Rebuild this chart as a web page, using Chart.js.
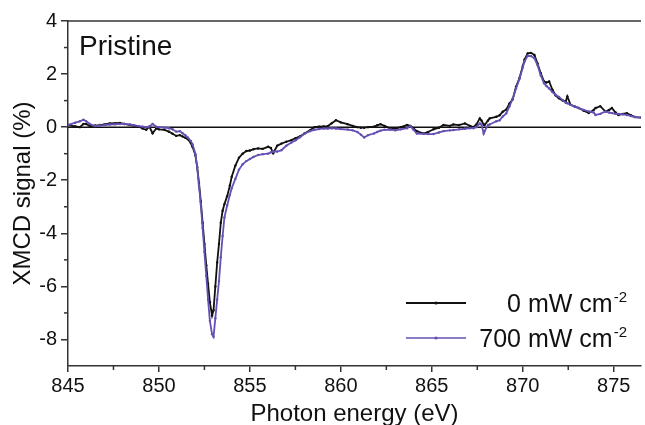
<!DOCTYPE html>
<html>
<head>
<meta charset="utf-8">
<script src="https://cdn.jsdelivr.net/npm/chart.js@4.4.1/dist/chart.umd.min.js"></script>
<style>
  html, body { margin: 0; padding: 0; background: #fff; }
</style>
</head>
<body>
<canvas id="xmcdChart" width="645" height="425"></canvas>
<script>
// photon energy (eV), shared by both spectra
const energy = [
  845.0, 845.4, 845.65, 845.85, 846.0, 846.2, 846.5, 846.75, 847.0, 847.3,
  847.6, 847.85, 848.1, 848.4, 848.65, 848.9, 849.1, 849.3, 849.47, 849.65,
  849.85, 850.0, 850.3, 850.55, 850.75, 850.95, 851.15, 851.3, 851.45, 851.6,
  851.75, 851.85, 852.0, 852.1, 852.2, 852.3, 852.4, 852.5, 852.6, 852.7,
  852.8, 852.92, 853.0, 853.1, 853.2, 853.3, 853.4, 853.5, 853.6, 853.75,
  853.9, 854.0, 854.2, 854.4, 854.6, 854.8, 855.0, 855.2, 855.45, 855.7,
  856.0, 856.15, 856.28, 856.5, 856.73, 857.0, 857.28, 857.5, 857.75, 858.0,
  858.3, 858.55, 858.8, 859.05, 859.28, 859.5, 859.73, 860.0, 860.37, 860.65,
  860.91, 861.1, 861.28, 861.5, 861.82, 862.0, 862.18, 862.4, 862.73, 863.0,
  863.3, 863.64, 863.82, 864.0, 864.18, 864.55, 864.8, 865.09, 865.4, 865.64,
  866.0, 866.18, 866.5, 866.82, 867.1, 867.28, 867.45, 867.64, 867.73, 867.85,
  867.9, 868.09, 868.18, 868.54, 868.73, 868.9, 869.09, 869.27, 869.45, 869.63,
  869.82, 870.0, 870.1, 870.27, 870.45, 870.64, 870.81, 870.99, 871.17, 871.3,
  871.45, 871.63, 871.8, 871.99, 872.2, 872.36, 872.45, 872.63, 872.85, 873.08,
  873.35, 873.63, 873.9, 874.0, 874.26, 874.54, 874.75, 874.9, 875.1, 875.26,
  875.5, 875.72, 875.95, 876.17, 876.5
];

// XMCD signal (%) at 0 mW cm-2
const signal0 = [
  0.08, 0.03, 0.00, 0.12, 0.12, 0.04, 0.06, 0.08, 0.10, 0.14,
  0.15, 0.16, 0.12, 0.08, 0.05, 0.02, -0.05, -0.10, 0.02, -0.23,
  -0.05, -0.08, -0.10, -0.17, -0.25, -0.33, -0.30, -0.35, -0.40, -0.46,
  -0.60, -0.75, -1.05, -1.5, -2.1, -2.8, -3.6, -4.4, -5.2, -5.9,
  -6.6, -7.1, -6.9, -6.0, -5.1, -4.4, -3.6, -3.15, -2.9, -2.6,
  -2.2, -1.87, -1.45, -1.15, -1.0, -0.9, -0.88, -0.83, -0.80, -0.82,
  -0.74, -0.78, -0.98, -0.70, -0.62, -0.55, -0.49, -0.42, -0.35, -0.24,
  -0.12, 0.00, 0.02, 0.03, 0.04, 0.15, 0.26, 0.18, 0.11, 0.05,
  0.00, -0.02, -0.02, 0.00, 0.02, 0.07, 0.11, 0.05, -0.05, -0.05,
  0.00, 0.08, 0.05, -0.05, -0.15, -0.24, -0.18, -0.08, -0.02, 0.08,
  0.05, 0.10, 0.08, 0.14, 0.05, 0.00, 0.10, 0.33, 0.25, 0.10,
  0.08, 0.25, 0.33, 0.39, 0.45, 0.58, 0.66, 0.89, 1.05, 1.52,
  1.85, 2.30, 2.55, 2.78, 2.80, 2.72, 2.40, 2.03, 1.72, 1.68,
  1.72, 1.41, 1.20, 1.09, 1.00, 0.97, 1.16, 0.84, 0.78, 0.72,
  0.62, 0.53, 0.65, 0.72, 0.79, 0.59, 0.65, 0.72, 0.55, 0.46,
  0.50, 0.53, 0.45, 0.38, 0.36
];

// XMCD signal (%) at 700 mW cm-2
const signal700 = [
  0.08, 0.17, 0.22, 0.28, 0.22, 0.12, 0.04, 0.06, 0.08, 0.10,
  0.11, 0.12, 0.12, 0.10, 0.07, 0.04, 0.02, 0.00, 0.02, 0.12,
  0.02, 0.00, -0.02, -0.04, -0.08, -0.17, -0.15, -0.23, -0.30, -0.40,
  -0.52, -0.65, -1.0, -1.5, -2.2, -2.9, -3.8, -4.7, -5.6, -6.5,
  -7.3, -7.8, -7.9, -7.2, -6.5, -5.8, -4.9, -4.1, -3.4, -2.95,
  -2.55, -2.3, -1.95, -1.6, -1.4, -1.28, -1.2, -1.12, -1.05, -1.02,
  -1.0, -0.95, -0.92, -0.92, -0.87, -0.70, -0.58, -0.50, -0.38, -0.25,
  -0.15, -0.10, -0.07, -0.05, -0.05, -0.04, -0.05, -0.07, -0.09, -0.12,
  -0.18, -0.28, -0.39, -0.30, -0.24, -0.18, -0.13, -0.10, -0.09, -0.12,
  -0.08, -0.04, 0.04, -0.10, -0.24, -0.25, -0.26, -0.26, -0.20, -0.15,
  -0.12, -0.11, -0.08, -0.06, -0.04, -0.04, 0.00, 0.14, 0.10, -0.24,
  -0.15, 0.08, 0.10, 0.22, 0.26, 0.40, 0.52, 0.78, 1.08, 1.46,
  1.82, 2.25, 2.48, 2.69, 2.68, 2.60, 2.34, 1.95, 1.65, 1.55,
  1.46, 1.32, 1.22, 1.14, 1.02, 0.92, 0.90, 0.84, 0.78, 0.72,
  0.65, 0.59, 0.55, 0.46, 0.50, 0.59, 0.55, 0.53, 0.50, 0.50,
  0.48, 0.46, 0.42, 0.38, 0.36
];

const seriesNames = ['0 mW cm', '700 mW cm'];
const seriesUnitSup = '-2';
const seriesColors = ['#111111', '#6650b3'];
const xTicks = [845, 850, 855, 860, 865, 870, 875];
const yTicks = [-8, -6, -4, -2, 0, 2, 4];
const sampleName = 'Pristine';

const FONT = '"Liberation Sans", Arial, sans-serif';

const toPoints = vals => vals.map((v, i) => ({ x: energy[i], y: v }));

// zero line, top frame, minor ticks, legend and sample label
const extras = {
  id: 'extras',
  beforeDatasetsDraw(chart) {
    const { ctx, chartArea: a, scales: { x, y } } = chart;
    ctx.save();
    ctx.strokeStyle = '#111';
    ctx.lineWidth = 1.5;
    const y0 = y.getPixelForValue(0);
    ctx.beginPath();
    ctx.moveTo(a.left, y0);
    ctx.lineTo(a.right, y0);
    ctx.stroke();

    ctx.strokeStyle = '#333';
    ctx.beginPath();
    ctx.moveTo(a.left, a.top);
    ctx.lineTo(a.right, a.top);
    ctx.stroke();

    // minor ticks halfway between the major ones
    for (let i = 0; i < xTicks.length; i++) {
      const v = xTicks[i] + 2.5;
      if (v > x.max) break;
      const px = x.getPixelForValue(v);
      ctx.beginPath();
      ctx.moveTo(px, a.bottom);
      ctx.lineTo(px, a.bottom + 4);
      ctx.stroke();
    }
    for (let i = 0; i < yTicks.length - 1; i++) {
      const py = y.getPixelForValue(yTicks[i] + 1);
      ctx.beginPath();
      ctx.moveTo(a.left, py);
      ctx.lineTo(a.left - 4, py);
      ctx.stroke();
    }
    ctx.restore();
  },
  afterDraw(chart) {
    const { ctx, chartArea: a } = chart;
    ctx.save();
    ctx.fillStyle = '#111';
    ctx.textAlign = 'left';
    ctx.textBaseline = 'alphabetic';
    ctx.font = '28px ' + FONT;
    ctx.fillText(sampleName, a.left + 11, a.top + 34);

    const textRight = a.right - 14;
    seriesNames.forEach((name, i) => {
      const rowY = a.bottom - 63 + i * 35;
      ctx.strokeStyle = seriesColors[i];
      ctx.lineWidth = i === 0 ? 2 : 1.5;
      ctx.beginPath();
      ctx.moveTo(a.right - 235, rowY);
      ctx.lineTo(a.right - 175, rowY);
      ctx.stroke();
      ctx.fillStyle = seriesColors[i];
      ctx.beginPath();
      ctx.arc(a.right - 205, rowY, 1.6, 0, Math.PI * 2);
      ctx.fill();

      ctx.fillStyle = '#111';
      ctx.textAlign = 'right';
      ctx.font = '15px ' + FONT;
      ctx.fillText(seriesUnitSup, textRight, rowY - 1);
      const supW = ctx.measureText(seriesUnitSup).width;
      ctx.font = '25px ' + FONT;
      ctx.fillText(name, textRight - supW - 1, rowY + 9);
    });
    ctx.restore();
  }
};

new Chart(document.getElementById('xmcdChart').getContext('2d'), {
  type: 'line',
  data: {
    datasets: [
      {
        label: seriesNames[1],
        data: toPoints(signal700),
        borderColor: seriesColors[1],
        backgroundColor: seriesColors[1],
        borderWidth: 1.8,
        pointRadius: 1.2,
        pointBorderWidth: 0,
        tension: 0,
        order: 0
      },
      {
        label: seriesNames[0],
        data: toPoints(signal0),
        borderColor: seriesColors[0],
        backgroundColor: seriesColors[0],
        borderWidth: 1.8,
        pointRadius: 1.2,
        pointBorderWidth: 0,
        tension: 0,
        order: 1
      }
    ]
  },
  options: {
    responsive: false,
    animation: false,
    layout: { padding: { top: 21, right: 0, left: 0, bottom: 0 } },
    plugins: {
      legend: { display: false },
      tooltip: { enabled: false }
    },
    scales: {
      x: {
        type: 'linear',
        min: 845,
        max: 876.5,
        afterBuildTicks: scale => { scale.ticks = xTicks.map(v => ({ value: v })); },
        afterFit: scale => { scale.height = 59; },
        border: { color: '#333', width: 1.5 },
        grid: { drawOnChartArea: false, tickLength: 6, color: '#333', lineWidth: 1.5 },
        ticks: {
          autoSkip: false,
          maxRotation: 0,
          padding: 2,
          color: '#111',
          font: { family: FONT, size: 20 },
          callback: v => String(v)
        },
        title: {
          display: true,
          text: 'Photon energy (eV)',
          color: '#111',
          font: { family: FONT, size: 24, lineHeight: 1 },
          padding: { top: 0, bottom: -1 }
        }
      },
      y: {
        min: -9,
        max: 4,
        afterBuildTicks: scale => { scale.ticks = yTicks.map(v => ({ value: v })); },
        afterFit: scale => { scale.width = 68; },
        border: { color: '#333', width: 1.5 },
        grid: { drawOnChartArea: false, tickLength: 7, color: '#333', lineWidth: 1.5 },
        ticks: {
          padding: 4,
          color: '#111',
          font: { family: FONT, size: 20 },
          callback: v => String(v)
        },
        title: {
          display: true,
          text: 'XMCD signal (%)',
          color: '#111',
          font: { family: FONT, size: 24, lineHeight: 1 },
          padding: { top: 11, bottom: 0 }
        }
      }
    }
  },
  plugins: [extras]
});
</script>
</body>
</html>
